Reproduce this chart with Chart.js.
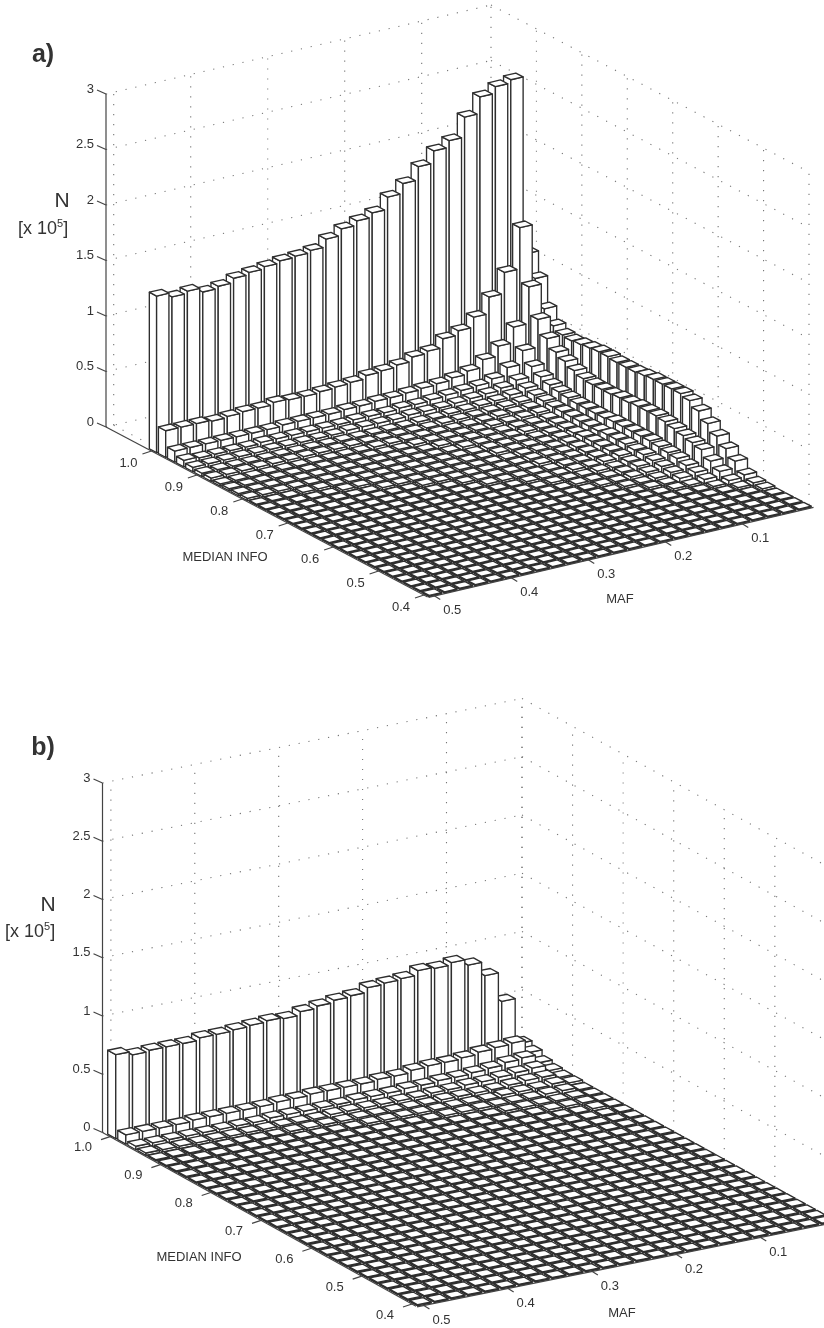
<!DOCTYPE html>
<html>
<head>
<meta charset="utf-8">
<title>N by MAF and median INFO</title>
<script src="https://cdn.jsdelivr.net/npm/chart.js@4"></script>
<style>
html, body { margin: 0; padding: 0; background: #fff; overflow: hidden; }
canvas { position: absolute; left: 0; }
#panelA { top: 0; }
#panelB { top: 664px; }
</style>
</head>
<body>
<canvas id="panelA" width="824" height="664"></canvas>
<canvas id="panelB" width="824" height="664"></canvas>
<script>
var MAF = [.50,.48,.46,.44,.42,.40,.38,.36,.34,.32,.30,.28,.26,.24,.22,.20,.18,.16,.14,.12,.10,.08,.06,.04,.02];
var INFO = [1.0,.98,.96,.94,.92,.90,.88,.86,.84,.82,.80,.78,.76,.74,.72,.70,.68,.66,.64,.62,.60,.58,.56,.54,.52,.50,.48,.46,.44,.42,.40];
var N_TICKS = [0,.5,1,1.5,2,2.5,3];
var N_LABELS = ['0','0.5','1','1.5','2','2.5','3'];
var MAF_TICKS = [.5,.4,.3,.2,.1];
var MAF_LABELS = ['0.5','0.4','0.3','0.2','0.1'];
var INFO_TICKS = [1.0,.9,.8,.7,.6,.5,.4];
var INFO_LABELS = ['1.0','0.9','0.8','0.7','0.6','0.5','0.4'];

/* panel a, one row per INFO bin, x 10^5 */
var N_A = [
[1.41,1.37,1.39,1.35,1.37,1.41,1.43,1.45,1.47,1.48,1.50,1.57,1.63,1.67,1.71,1.82,1.91,2.03,2.14,2.20,2.38,2.53,2.59,2.62,1.02],
[.24,.24,.24,.23,.24,.25,.25,.27,.26,.26,.27,.28,.29,.32,.33,.35,.39,.41,.49,.53,.62,.77,.96,1.33,.84],
[.10,.10,.10,.10,.10,.10,.10,.11,.11,.11,.11,.12,.12,.13,.13,.14,.15,.16,.18,.21,.28,.37,.51,.84,.61],
[.06,.05,.05,.05,.05,.06,.06,.06,.06,.06,.06,.07,.07,.07,.08,.08,.09,.10,.11,.12,.15,.22,.34,.59,.50],
[.04,.04,.04,.04,.04,.04,.04,.04,.04,.04,.05,.05,.05,.05,.06,.06,.06,.07,.08,.09,.11,.15,.24,.46,.46],
[.03,.03,.03,.03,.03,.03,.03,.03,.03,.03,.03,.03,.03,.03,.04,.04,.05,.05,.06,.07,.09,.12,.19,.38,.45],
[.03,.03,.03,.03,.03,.03,.03,.03,.03,.03,.03,.03,.03,.03,.03,.04,.04,.04,.05,.06,.07,.10,.16,.34,.46],
[.02,.02,.02,.02,.02,.02,.02,.02,.02,.02,.03,.03,.03,.03,.03,.03,.03,.04,.05,.05,.06,.09,.14,.30,.47],
[.02,.02,.02,.02,.02,.02,.02,.02,.02,.02,.02,.02,.03,.03,.03,.03,.03,.04,.04,.05,.06,.08,.13,.27,.48],
[.02,.02,.02,.02,.02,.02,.02,.02,.02,.02,.02,.02,.02,.03,.03,.03,.03,.03,.04,.04,.05,.08,.12,.26,.48],
[.02,.02,.02,.02,.02,.02,.02,.02,.02,.02,.02,.02,.02,.02,.03,.03,.03,.03,.04,.04,.05,.08,.12,.26,.47],
[.01,.01,.01,.02,.02,.02,.02,.02,.02,.02,.02,.02,.02,.02,.02,.03,.03,.03,.03,.04,.05,.08,.12,.26,.47],
[.01,.01,.01,.01,.01,.02,.02,.02,.02,.02,.02,.02,.02,.02,.02,.03,.03,.03,.03,.04,.05,.08,.12,.27,.47],
[.01,.01,.01,.01,.01,.01,.01,.02,.02,.02,.02,.02,.02,.02,.02,.02,.03,.03,.03,.04,.06,.08,.13,.27,.48],
[.01,.01,.01,.01,.01,.01,.01,.01,.01,.02,.02,.02,.02,.02,.02,.02,.03,.03,.03,.04,.06,.09,.13,.28,.49],
[.01,.01,.01,.01,.01,.01,.01,.01,.01,.01,.01,.02,.02,.02,.02,.02,.03,.03,.03,.04,.06,.09,.13,.28,.49],
[.01,.01,.01,.01,.01,.01,.01,.01,.01,.01,.01,.01,.02,.02,.02,.02,.02,.03,.03,.04,.06,.09,.13,.28,.49],
[.01,.01,.01,.01,.01,.01,.01,.01,.01,.01,.01,.01,.01,.01,.02,.02,.02,.03,.03,.04,.06,.08,.13,.27,.49],
[.01,.01,.01,.01,.01,.01,.01,.01,.01,.01,.01,.01,.01,.01,.01,.02,.02,.02,.03,.03,.05,.08,.12,.25,.47],
[.01,.01,.01,.01,.01,.01,.01,.01,.01,.01,.01,.01,.01,.01,.01,.01,.02,.02,.02,.03,.05,.07,.11,.23,.42],
[.01,.01,.01,.01,.01,.01,.01,.01,.01,.01,.01,.01,.01,.01,.01,.01,.01,.02,.02,.03,.04,.06,.10,.21,.35],
[.01,.01,.01,.01,.01,.01,.01,.01,.01,.01,.01,.01,.01,.01,.01,.01,.01,.01,.02,.02,.03,.05,.08,.19,.28],
[.01,.01,.01,.01,.01,.01,.01,.01,.01,.01,.01,.01,.01,.01,.01,.01,.01,.01,.01,.02,.02,.04,.06,.13,.21],
[.01,.01,.01,.01,.01,.01,.01,.01,.01,.01,.01,.01,.01,.01,.01,.01,.01,.01,.01,.01,.02,.02,.04,.08,.14],
[.01,.01,.01,.01,.01,.01,.01,.01,.01,.01,.01,.01,.01,.01,.01,.01,.01,.01,.01,.01,.01,.01,.02,.04,.06],
[.01,.01,.01,.01,.01,.01,.01,.01,.01,.01,.01,.01,.01,.01,.01,.01,.01,.01,.01,.01,.01,.01,.01,.02,.03],
[.01,.01,.01,.01,.01,.01,.01,.01,.01,.01,.01,.01,.01,.01,.01,.01,.01,.01,.01,.01,.01,.01,.01,.01,.02],
[.01,.01,.01,.01,.01,.01,.01,.01,.01,.01,.01,.01,.01,.01,.01,.01,.01,.01,.01,.01,.01,.01,.01,.01,.01],
[.01,.01,.01,.01,.01,.01,.01,.01,.01,.01,.01,.01,.01,.01,.01,.01,.01,.01,.01,.01,.01,.01,.01,.01,.01],
[.01,.01,.01,.01,.01,.01,.01,.01,.01,.01,.01,.01,.01,.01,.01,.01,.01,.01,.01,.01,.01,.01,.01,.01,.01],
[.01,.01,.01,.01,.01,.01,.01,.01,.01,.01,.01,.01,.01,.01,.01,.01,.01,.01,.01,.01,.01,.01,.01,.01,.01]
];

/* panel b */
var N_B = [
[.72,.69,.70,.70,.70,.72,.72,.73,.74,.75,.74,.77,.79,.81,.82,.86,.87,.88,.92,.91,.93,.88,.76,.51,.12],
[.08,.08,.08,.08,.09,.09,.09,.09,.09,.10,.10,.11,.11,.11,.11,.12,.12,.14,.15,.15,.16,.18,.19,.20,.09],
[.03,.03,.03,.03,.03,.03,.03,.03,.04,.04,.04,.04,.04,.05,.05,.05,.06,.06,.07,.07,.08,.09,.11,.12,.05],
[.02,.02,.02,.02,.02,.02,.02,.02,.02,.02,.02,.03,.03,.03,.03,.03,.03,.04,.04,.05,.05,.06,.07,.08,.03],
[.01,.01,.01,.01,.01,.01,.01,.01,.02,.02,.02,.02,.02,.02,.02,.02,.02,.03,.03,.03,.03,.04,.05,.05,.02],
[.01,.01,.01,.01,.01,.01,.01,.01,.01,.01,.01,.01,.02,.02,.02,.02,.02,.02,.02,.02,.03,.03,.03,.04,.02],
[.01,.01,.01,.01,.01,.01,.01,.01,.01,.01,.01,.01,.01,.01,.01,.01,.02,.02,.02,.02,.02,.02,.03,.03,.01],
[.01,.01,.01,.01,.01,.01,.01,.01,.01,.01,.01,.01,.01,.01,.01,.01,.01,.01,.01,.02,.02,.02,.02,.02,.01],
[.01,.01,.01,.01,.01,.01,.01,.01,.01,.01,.01,.01,.01,.01,.01,.01,.01,.01,.01,.01,.01,.02,.02,.02,.01],
[.01,.01,.01,.01,.01,.01,.01,.01,.01,.01,.01,.01,.01,.01,.01,.01,.01,.01,.01,.01,.01,.01,.01,.02,.01],
[.01,.01,.01,.01,.01,.01,.01,.01,.01,.01,.01,.01,.01,.01,.01,.01,.01,.01,.01,.01,.01,.01,.01,.01,.01],
[.01,.01,.01,.01,.01,.01,.01,.01,.01,.01,.01,.01,.01,.01,.01,.01,.01,.01,.01,.01,.01,.01,.01,.01,.01],
[.01,.01,.01,.01,.01,.01,.01,.01,.01,.01,.01,.01,.01,.01,.01,.01,.01,.01,.01,.01,.01,.01,.01,.01,.01],
[.01,.01,.01,.01,.01,.01,.01,.01,.01,.01,.01,.01,.01,.01,.01,.01,.01,.01,.01,.01,.01,.01,.01,.01,.01],
[.01,.01,.01,.01,.01,.01,.01,.01,.01,.01,.01,.01,.01,.01,.01,.01,.01,.01,.01,.01,.01,.01,.01,.01,.01],
[.01,.01,.01,.01,.01,.01,.01,.01,.01,.01,.01,.01,.01,.01,.01,.01,.01,.01,.01,.01,.01,.01,.01,.01,.01],
[.01,.01,.01,.01,.01,.01,.01,.01,.01,.01,.01,.01,.01,.01,.01,.01,.01,.01,.01,.01,.01,.01,.01,.01,.01],
[.01,.01,.01,.01,.01,.01,.01,.01,.01,.01,.01,.01,.01,.01,.01,.01,.01,.01,.01,.01,.01,.01,.01,.01,.01],
[.01,.01,.01,.01,.01,.01,.01,.01,.01,.01,.01,.01,.01,.01,.01,.01,.01,.01,.01,.01,.01,.01,.01,.01,.01],
[.01,.01,.01,.01,.01,.01,.01,.01,.01,.01,.01,.01,.01,.01,.01,.01,.01,.01,.01,.01,.01,.01,.01,.01,.01],
[.01,.01,.01,.01,.01,.01,.01,.01,.01,.01,.01,.01,.01,.01,.01,.01,.01,.01,.01,.01,.01,.01,.01,.01,.01],
[.01,.01,.01,.01,.01,.01,.01,.01,.01,.01,.01,.01,.01,.01,.01,.01,.01,.01,.01,.01,.01,.01,.01,.01,.01],
[.01,.01,.01,.01,.01,.01,.01,.01,.01,.01,.01,.01,.01,.01,.01,.01,.01,.01,.01,.01,.01,.01,.01,.01,.01],
[.01,.01,.01,.01,.01,.01,.01,.01,.01,.01,.01,.01,.01,.01,.01,.01,.01,.01,.01,.01,.01,.01,.01,.01,.01],
[.01,.01,.01,.01,.01,.01,.01,.01,.01,.01,.01,.01,.01,.01,.01,.01,.01,.01,.01,.01,.01,.01,.01,.01,.01],
[.01,.01,.01,.01,.01,.01,.01,.01,.01,.01,.01,.01,.01,.01,.01,.01,.01,.01,.01,.01,.01,.01,.01,.01,.01],
[.01,.01,.01,.01,.01,.01,.01,.01,.01,.01,.01,.01,.01,.01,.01,.01,.01,.01,.01,.01,.01,.01,.01,.01,.01],
[.01,.01,.01,.01,.01,.01,.01,.01,.01,.01,.01,.01,.01,.01,.01,.01,.01,.01,.01,.01,.01,.01,.01,.01,.01],
[.01,.01,.01,.01,.01,.01,.01,.01,.01,.01,.01,.01,.01,.01,.01,.01,.01,.01,.01,.01,.01,.01,.01,.01,.01],
[.01,.01,.01,.01,.01,.01,.01,.01,.01,.01,.01,.01,.01,.01,.01,.01,.01,.01,.01,.01,.01,.01,.01,.01,.01],
[.01,.01,.01,.01,.01,.01,.01,.01,.01,.01,.01,.01,.01,.01,.01,.01,.01,.01,.01,.01,.01,.01,.01,.01,.01]
];

var INK = '#2e2e2e';
var TEXT = '#333';
var HALF = .008; // half a bar, bins are .02 wide

/* floor corners on the page, the rest goes through the scales */
var VIEW_A = {
    top: 0, infoMax: 1.1, zPx: 111, gridShift: 0, infoLabel: [-23, 12],
    left: [106, 427], back: [491, 338], front: [424, 595], right: [809, 505],
    panel: 'a)', panelAt: [43, 55],
    nAt: [62, 201], unitAt: [18, 229],
    mafTitle: [620, 599], infoTitle: [225, 557]
};
var VIEW_B = {
    top: 664, infoMax: 1.015, zPx: 116.5, gridShift: .015, infoLabel: [-27, 11],
    left: [102.5, 1132.5], back: [522, 1048], front: [412, 1304], right: [833, 1219],
    panel: 'b)', panelAt: [43, 748],
    nAt: [48, 905], unitAt: [5, 932],
    mafTitle: [622, 1313], infoTitle: [199, 1257]
};

function project(chart, view, maf, info, n) {
    var area = chart.chartArea;
    var s = (chart.scales.maf.getPixelForValue(maf) - area.left) / area.width;
    var t = (chart.scales.info.getPixelForValue(info) - area.left) / area.width;
    var h = (area.bottom - chart.scales.n.getPixelForValue(n)) / area.height;
    var c = [0, 1].map(function (a) {
        return (1 - s) * (1 - t) * view.left[a] + s * (1 - t) * view.back[a] + (1 - s) * t * view.front[a] + s * t * view.right[a];
    });
    return [c[0], c[1] - h * 3 * view.zPx];
}

function face(ctx, pts) {
    ctx.beginPath();
    pts.forEach(function (p, i) {
        if (i === 0) ctx.moveTo(p[0], p[1]);
        else ctx.lineTo(p[0], p[1]);
    });
    ctx.closePath();
    ctx.fill();
    ctx.stroke();
}

function segment(ctx, a, b) {
    ctx.beginPath();
    ctx.moveTo(a[0], a[1]);
    ctx.lineTo(b[0], b[1]);
    ctx.stroke();
}

function drawGrid(chart, ctx, view) {
    var P = function (m, i, n) { return project(chart, view, m, i, n); };
    ctx.strokeStyle = '#777';
    ctx.lineWidth = 1.1;
    ctx.setLineDash([1.2, 8.8]);
    N_TICKS.forEach(function (n) {
        segment(ctx, P(.51, view.infoMax, n), P(.01, view.infoMax, n));
        segment(ctx, P(.01, view.infoMax, n), P(.01, .4, n));
    });
    MAF_TICKS.forEach(function (m) {
        segment(ctx, P(m, view.infoMax, 0), P(m, view.infoMax, 3));
        segment(ctx, P(m, view.infoMax, 0), P(m, .4, 0));
    });
    segment(ctx, P(.01, view.infoMax, 0), P(.01, view.infoMax, 3));
    INFO_TICKS.forEach(function (i) {
        segment(ctx, P(.01, i + view.gridShift, 0), P(.01, i + view.gridShift, 3));
        segment(ctx, P(.51, i, 0), P(.01, i + view.gridShift, 0));
    });
    ctx.setLineDash([]);
}

function drawBars(chart, ctx, view) {
    ctx.fillStyle = '#fff';
    ctx.strokeStyle = INK;
    ctx.lineWidth = 1.35;
    ctx.lineJoin = 'round';
    chart.data.datasets.forEach(function (ds) {
        // back to front: first rows and low MAF are the far ones
        for (var k = ds.data.length - 1; k >= 0; k--) {
            var m = ds.data[k].x, n = ds.data[k].y, i = ds.info;
            var lt = P4(m + HALF, i + HALF), fr = P4(m + HALF, i - HALF), rt = P4(m - HALF, i - HALF), bk = P4(m - HALF, i + HALF);
            face(ctx, [lt[0], fr[0], fr[1], lt[1]]);
            face(ctx, [fr[0], rt[0], rt[1], fr[1]]);
            face(ctx, [lt[1], fr[1], rt[1], bk[1]]);
        }
        function P4(a, b) {
            return [project(chart, view, a, b, 0), project(chart, view, a, b, n)];
        }
    });
}

function drawAxes(chart, ctx, view) {
    var P = function (m, i, n) { return project(chart, view, m, i, n); };
    ctx.strokeStyle = '#444';
    ctx.lineWidth = 1.2;
    segment(ctx, P(.51, view.infoMax, 0), P(.51, view.infoMax, 3));
    segment(ctx, P(.51, view.infoMax, 0), P(.51, .392, 0));
    segment(ctx, P(.51, .39, 0), P(.01, .39, 0));

    ctx.fillStyle = TEXT;
    ctx.font = '13px "Liberation Sans"';
    ctx.textBaseline = 'middle';

    ctx.textAlign = 'right';
    N_TICKS.forEach(function (n, idx) {
        var p = P(.51, view.infoMax, n);
        segment(ctx, [p[0] - 9, p[1] - 4], p);
        ctx.fillText(N_LABELS[idx], p[0] - 12, p[1] - 5);
    });

    ctx.textAlign = 'center';
    INFO_TICKS.forEach(function (i, idx) {
        var p = P(.51, i, 0);
        segment(ctx, [p[0] - 9, p[1] + 3], p);
        ctx.fillText(INFO_LABELS[idx], p[0] + view.infoLabel[0], p[1] + view.infoLabel[1]);
    });
    MAF_TICKS.forEach(function (m, idx) {
        var p = P(m, .39, 0);
        segment(ctx, [p[0] - 4, p[1] - 1], [p[0] + 4, p[1] + 4]);
        ctx.fillText(MAF_LABELS[idx], p[0] + 16, p[1] + 15);
    });

    ctx.fillText('MEDIAN INFO', view.infoTitle[0], view.infoTitle[1]);
    ctx.fillText('MAF', view.mafTitle[0], view.mafTitle[1]);

    ctx.font = 'bold 25px "Liberation Sans"';
    ctx.fillText(view.panel, view.panelAt[0], view.panelAt[1]);
    ctx.font = '21px "Liberation Sans"';
    ctx.fillText('N', view.nAt[0], view.nAt[1]);

    ctx.textAlign = 'left';
    ctx.font = '18px "Liberation Sans"';
    var x = view.unitAt[0], y = view.unitAt[1];
    ctx.fillText('[x 10', x, y);
    x += ctx.measureText('[x 10').width;
    ctx.font = '11px "Liberation Sans"';
    ctx.fillText('5', x, y - 5);
    x += ctx.measureText('5').width;
    ctx.font = '18px "Liberation Sans"';
    ctx.fillText(']', x, y);
}

var bar3dPlugin = {
    id: 'bar3d',
    afterDatasetsDraw: function (chart, args, opts) {
        var ctx = chart.ctx;
        var view = opts.view;
        ctx.save();
        ctx.translate(0, -view.top);
        drawGrid(chart, ctx, view);
        drawBars(chart, ctx, view);
        drawAxes(chart, ctx, view);
        ctx.restore();
    }
};

function makePanel(id, rows, view) {
    var datasets = rows.map(function (row, r) {
        return {
            label: 'INFO ' + INFO[r],
            info: INFO[r],
            xAxisID: 'maf',
            yAxisID: 'n',
            pointRadius: 0,
            data: row.map(function (v, k) { return { x: MAF[k], y: v }; })
        };
    });
    return new Chart(document.getElementById(id), {
        type: 'scatter',
        data: { datasets: datasets },
        plugins: [bar3dPlugin],
        options: {
            responsive: false,
            animation: false,
            layout: { padding: 0 },
            plugins: { legend: { display: false }, tooltip: { enabled: false }, bar3d: { view: view } },
            scales: {
                maf: { type: 'linear', axis: 'x', position: 'bottom', reverse: true, min: .01, max: .51, display: false },
                info: { type: 'linear', axis: 'x', position: 'bottom', reverse: true, min: .4, max: view.infoMax, display: false },
                n: { type: 'linear', axis: 'y', position: 'left', min: 0, max: 3, display: false }
            }
        }
    });
}

window.panelA = makePanel('panelA', N_A, VIEW_A);
window.panelB = makePanel('panelB', N_B, VIEW_B);
</script>
</body>
</html>
